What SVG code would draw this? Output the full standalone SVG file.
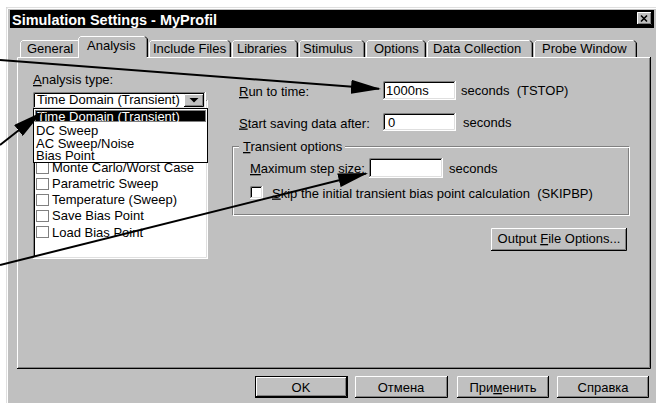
<svg xmlns="http://www.w3.org/2000/svg" width="656" height="403" viewBox="0 0 656 403">
<defs>
<style>
.t{font-family:"Liberation Sans",Arial,sans-serif;font-size:13px;fill:#000}
.w{fill:#fff}
.c{text-anchor:middle}
.u{text-decoration:underline}
.hi{fill:none;stroke:#fff}
.lt{fill:none;stroke:#dfdfdf}
.dk{fill:none;stroke:#808080}
.bk{fill:none;stroke:#000}
.arrow{fill:none;stroke:#000;stroke-width:2;marker-end:url(#ah)}
</style>
<marker id="ah" markerUnits="userSpaceOnUse" markerWidth="30" markerHeight="14" viewBox="0 0 30 14" refX="28" refY="7" orient="auto">
<path d="M0,0 L30,7 L0,14 z" fill="#000"/>
</marker>
</defs>
<rect x="0" y="0" width="656" height="403" fill="#fff"/>
<g id="window">
<rect x="6" y="7" width="650" height="396" fill="#c0c0c0"/>
<path class="lt" d="M6.5,403 V7.5 H656"/>
<path class="hi" d="M7.5,403 V8.5 H656"/>
</g>
<g id="titlebar">
<rect x="10" y="10" width="644" height="18" fill="#000"/>
<text class="t w" x="12" y="25" style="font-weight:bold;font-size:14px" textLength="205" lengthAdjust="spacingAndGlyphs">Simulation Settings - MyProfil</text>
<g id="close">
<rect x="637" y="12" width="15" height="13" fill="#c0c0c0"/>
<path class="hi" d="M637.5,24 V12.5 H651"/>
<path class="bk" d="M637,24.5 H651.5 V12"/>
<path class="dk" d="M638,23.5 H650.5 V13"/>
<path d="M641,15.5 L647,21.5 M647,15.5 L641,21.5" stroke="#000" stroke-width="1.6"/>
</g>
</g>
<g id="tabs">
<g id="tab-general"><path class="hi" d="M20.5,57 V42.5 L22.5,40.5 H78"/><text class="t" x="27" y="53">General</text></g>
<g id="tab-include"><path class="hi" d="M149.5,57 V42.5 L151.5,40.5 H228"/><path class="bk" d="M228,40.5 L230.5,43 V57"/><path class="dk" d="M229.5,43 V57"/><text class="t" x="153" y="53">Include Files</text></g>
<g id="tab-libraries"><path class="hi" d="M232.5,57 V42.5 L234.5,40.5 H295"/><path class="bk" d="M295,40.5 L297.5,43 V57"/><path class="dk" d="M296.5,43 V57"/><text class="t" x="237" y="53">Libraries</text></g>
<g id="tab-stimulus"><path class="hi" d="M299.5,57 V42.5 L301.5,40.5 H362"/><path class="bk" d="M362,40.5 L364.5,43 V57"/><path class="dk" d="M363.5,43 V57"/><text class="t" x="303" y="53">Stimulus</text></g>
<g id="tab-options"><path class="hi" d="M366.5,57 V42.5 L368.5,40.5 H423"/><path class="bk" d="M423,40.5 L425.5,43 V57"/><path class="dk" d="M424.5,43 V57"/><text class="t" x="374" y="53">Options</text></g>
<g id="tab-data"><path class="hi" d="M427.5,57 V42.5 L429.5,40.5 H530"/><path class="bk" d="M530,40.5 L532.5,43 V57"/><path class="dk" d="M531.5,43 V57"/><text class="t" x="433" y="53">Data Collection</text></g>
<g id="tab-probe"><path class="hi" d="M534.5,57 V42.5 L536.5,40.5 H634"/><path class="bk" d="M634,40.5 L636.5,43 V57"/><path class="dk" d="M635.5,43 V57"/><text class="t" x="542" y="53">Probe Window</text></g>
</g>
<g id="panel">
<path class="hi" d="M17.5,368 V57.5 H650"/>
<path class="bk" d="M17,368.5 H650.5 V57"/>
<path class="dk" d="M18,367.5 H649.5 V58"/>
</g>
<g id="tab-analysis">
<rect x="79" y="37" width="68" height="22" fill="#c0c0c0"/>
<path class="hi" d="M78.5,58 V38.5 L80.5,36.5 H145"/>
<path class="bk" d="M145,36.5 L147.5,39 V57"/>
<path class="dk" d="M146.5,39 V57"/>
<text class="t" x="87" y="50">Analysis</text>
</g>
<g id="analysis-type-label"><text class="t" x="33" y="84"><tspan class="u">A</tspan>nalysis type:</text></g>
<g id="analysis-list">
<rect x="33" y="100" width="175" height="159" fill="#fff"/>
<path class="dk" d="M33.5,258 V100.5 H207"/>
<path class="bk" d="M34.5,257 V101.5 H206"/>
<path class="hi" d="M33,258.5 H207.5 V100"/>
<path class="lt" d="M34,257.5 H206.5 V101"/>
<g fill="#fff" stroke="#808080"><rect x="36.5" y="162.5" width="12" height="11"/><rect x="36.5" y="178.5" width="12" height="11"/><rect x="36.5" y="194.5" width="12" height="11"/><rect x="36.5" y="210.5" width="12" height="11"/><rect x="36.5" y="226.5" width="12" height="11"/></g>
<text class="t" x="52" y="171.5">Monte Carlo/Worst Case</text>
<text class="t" x="52" y="187.5">Parametric Sweep</text>
<text class="t" x="52" y="203.5">Temperature (Sweep)</text>
<text class="t" x="52" y="220">Save Bias Point</text>
<text class="t" x="52" y="236.5">Load Bias Point</text>
</g>
<g id="combobox">
<rect x="33" y="92" width="173" height="17" fill="#fff"/>
<path class="dk" d="M33.5,108 V92.5 H205"/>
<path class="bk" d="M34.5,107 V93.5 H204"/>
<path class="hi" d="M33,108.5 H205.5 V92"/>
<path class="lt" d="M34,107.5 H204.5 V93"/>
<text class="t" x="37" y="104">Time Domain (Transient)</text>
<rect x="184" y="94" width="20" height="13" fill="#c0c0c0"/>
<path class="hi" d="M184.5,106 V94.5 H203"/>
<path class="bk" d="M184,106.5 H203.5 V94"/>
<path class="dk" d="M185,105.5 H202.5 V95"/>
<path d="M189.5,98 H198.5 L194,102.5 z" fill="#000"/>
</g>
<g id="dropdown">
<rect x="33.5" y="108.5" width="174" height="54" fill="#fff" stroke="#000"/>
<rect x="35" y="110" width="171" height="12" fill="#000"/>
<rect x="35.5" y="110.5" width="170" height="11" fill="none" stroke="#fff" stroke-dasharray="1 1"/>
<text class="t w" x="37" y="120.5">Time Domain (Transient)</text>
<text class="t" x="36" y="135">DC Sweep</text>
<text class="t" x="36" y="147.5">AC Sweep/Noise</text>
<text class="t" x="36" y="160">Bias Point</text>
</g>
<g id="run-to-time">
<text class="t" x="239" y="96"><tspan class="u">R</tspan>un to time:</text>
<rect x="383" y="81" width="73" height="19" fill="#fff"/>
<path class="dk" d="M383.5,100 V81.5 H456"/>
<path class="bk" d="M384.5,99 V82.5 H455"/>
<path class="hi" d="M383,99.5 H455.5 V81"/>
<path class="lt" d="M384,98.5 H454.5 V82"/>
<text class="t" x="386" y="95">1000ns</text>
<text class="t" x="461" y="95" xml:space="preserve">seconds  (TSTOP)</text>
</g>
<g id="start-saving">
<text class="t" x="239" y="127.5"><tspan class="u">S</tspan>tart saving data after:</text>
<rect x="383" y="113" width="73" height="18" fill="#fff"/>
<path class="dk" d="M383.5,131 V113.5 H456"/>
<path class="bk" d="M384.5,130 V114.5 H455"/>
<path class="hi" d="M383,130.5 H455.5 V113"/>
<path class="lt" d="M384,129.5 H454.5 V114"/>
<text class="t" x="388" y="127">0</text>
<text class="t" x="463" y="127">seconds</text>
</g>
<g id="transient-options">
<rect x="232.5" y="146.5" width="396" height="68" class="dk"/>
<rect x="233.5" y="147.5" width="396" height="68" class="hi"/>
<rect x="239" y="140" width="106" height="12" fill="#c0c0c0"/>
<text class="t" x="243" y="151"><tspan class="u">T</tspan>ransient options</text>
<text class="t" x="250" y="173"><tspan class="u">M</tspan>aximum step size:</text>
<rect x="369" y="158" width="74" height="20" fill="#fff"/>
<path class="dk" d="M369.5,178 V158.5 H443"/>
<path class="bk" d="M370.5,177 V159.5 H442"/>
<path class="hi" d="M369,177.5 H442.5 V158"/>
<path class="lt" d="M370,176.5 H441.5 V159"/>
<text class="t" x="449" y="173">seconds</text>
<rect x="250" y="186" width="13" height="13" fill="#fff"/>
<path class="dk" d="M250.5,199 V186.5 H263"/>
<path class="bk" d="M251.5,198 V187.5 H262"/>
<path class="hi" d="M250,198.5 H262.5 V186"/>
<path class="lt" d="M251,197.5 H261.5 V187"/>
<text class="t" x="272" y="197.5" xml:space="preserve"><tspan class="u">S</tspan>kip the initial transient bias point calculation  (SKIPBP)</text>
</g>
<g id="output-file-options">
<rect x="491" y="228" width="136" height="23" fill="#c0c0c0"/>
<path class="hi" d="M491.5,250 V228.5 H626"/>
<path class="bk" d="M491,250.5 H626.5 V228"/>
<path class="dk" d="M492,249.5 H625.5 V229"/>
<text class="t c" x="559" y="243">Output <tspan class="u">F</tspan>ile Options...</text>
</g>
<g id="btn-ok">
<rect x="255.5" y="376.5" width="92" height="21" fill="#c0c0c0" stroke="#000"/>
<path class="hi" d="M256.5,396 V377.5 H346"/>
<path class="bk" d="M256,396.5 H346.5 V377"/>
<path class="dk" d="M257,395.5 H345.5 V378"/>
<text class="t c" x="301" y="392">OK</text>
</g>
<g id="btn-cancel">
<rect x="355" y="376" width="93" height="22" fill="#c0c0c0"/>
<path class="hi" d="M355.5,397 V376.5 H447"/>
<path class="bk" d="M355,397.5 H447.5 V376"/>
<path class="dk" d="M356,396.5 H446.5 V377"/>
<text class="t c" x="401" y="392">Отмена</text>
</g>
<g id="btn-apply">
<rect x="457" y="376" width="92" height="22" fill="#c0c0c0"/>
<path class="hi" d="M457.5,397 V376.5 H548"/>
<path class="bk" d="M457,397.5 H548.5 V376"/>
<path class="dk" d="M458,396.5 H547.5 V377"/>
<text class="t c" x="503" y="392">При<tspan class="u">м</tspan>енить</text>
</g>
<g id="btn-help">
<rect x="557" y="376" width="92" height="22" fill="#c0c0c0"/>
<path class="hi" d="M557.5,397 V376.5 H648"/>
<path class="bk" d="M557,397.5 H648.5 V376"/>
<path class="dk" d="M558,396.5 H647.5 V377"/>
<text class="t c" x="603" y="392">Справка</text>
</g>
<g id="connectors">
<path class="arrow" d="M0,60 L379,88.85"/>
<path class="arrow" d="M0,145 L40.4,113.2"/>
<path class="arrow" d="M0,265 L366.1,173.5"/>
</g>
</svg>
